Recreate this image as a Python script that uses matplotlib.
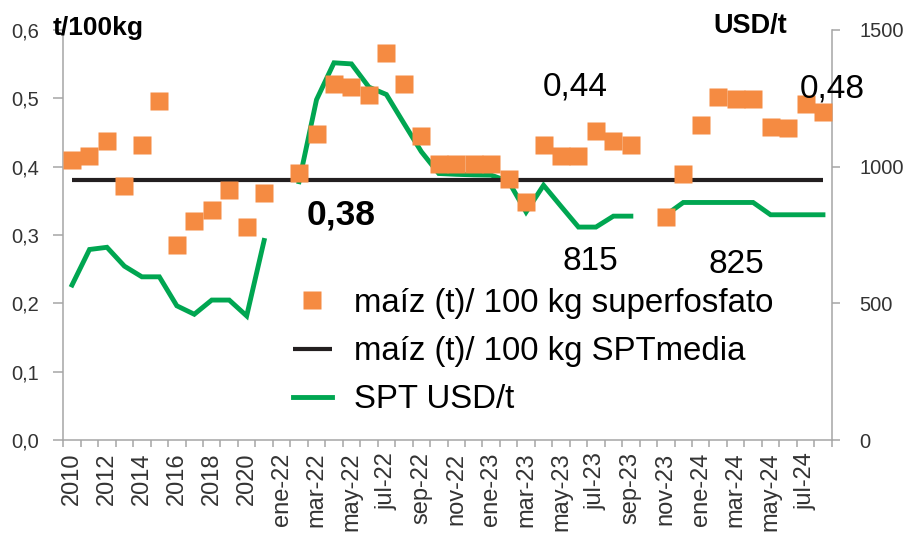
import numpy as np
import matplotlib
matplotlib.use("Agg")
import matplotlib.pyplot as plt
from matplotlib.ticker import FixedLocator, NullFormatter

plt.rcParams['font.family'] = ['Liberation Sans', 'DejaVu Sans']

years = ['2010', '2011', '2012', '2013', '2014', '2015', '2016', '2017',
         '2018', '2019', '2020', '2021']
months = ['ene-22', 'feb-22', 'mar-22', 'abr-22', 'may-22', 'jun-22', 'jul-22',
          'ago-22', 'sep-22', 'oct-22', 'nov-22', 'dic-22',
          'ene-23', 'feb-23', 'mar-23', 'abr-23', 'may-23', 'jun-23', 'jul-23',
          'ago-23', 'sep-23', 'oct-23', 'nov-23', 'dic-23',
          'ene-24', 'feb-24', 'mar-24', 'abr-24', 'may-24', 'jun-24', 'jul-24',
          'ago-24']
categories = years + months

nan = np.nan
maiz_superfosfato = [0.410, 0.416, 0.437, 0.372, 0.432, 0.496, 0.285, 0.320,
                     0.337, 0.366, 0.312, 0.362,
                     nan, 0.391, 0.448, 0.521, 0.517, 0.505, 0.567, 0.521,
                     0.445, 0.404, 0.404, 0.404, 0.404, 0.382, 0.349, 0.432,
                     0.416, 0.415, 0.452, 0.438, 0.432, nan, 0.326, 0.389,
                     0.461, 0.502, 0.499, 0.499, 0.458, 0.457, 0.492, 0.480]
spt_media = 0.38
spt_usd = [567, 697, 705, 636, 597, 597, 491, 460, 512, 512, 454, 730,
           nan, 945, 1245, 1380, 1376, 1291, 1264, 1159, 1055, 975, 972, 970,
           969, 946, 834, 932, 855, 779, 779, 819, 819, nan, 823, 869,
           869, 869, 869, 869, 824, 824, 824, 824]

label_every = 2
left_ticks = [0.0, 0.1, 0.2, 0.3, 0.4, 0.5, 0.6]
left_ticklabels = ['0,0', '0,1', '0,2', '0,3', '0,4', '0,5', '0,6']
right_ticks = [0, 500, 1000, 1500]

W, H = 907, 533
fig = plt.figure(figsize=(W / 100, H / 100), dpi=100)
ax = fig.add_axes([63.3 / W, 93 / H, (831.7 - 63.3) / W, (440 - 30) / H])
ax2 = ax.twinx()

x = np.arange(len(categories))
orange = '#F58B42'
green = '#00A651'
black = '#231F20'
gray = '#A6A6A6'
txtc = '#333333'

l_media, = ax.plot(x, [spt_media] * len(x), color=black, lw=3.0, zorder=2,
                   label='maíz (t)/ 100 kg SPTmedia', solid_capstyle='butt')
l_spt, = ax2.plot(x, spt_usd, color=green, lw=3.5, zorder=2,
                  label='SPT USD/t', solid_joinstyle='miter')
ax.set_zorder(ax2.get_zorder() + 1)
ax.patch.set_visible(False)
l_sq, = ax.plot(x, maiz_superfosfato, ls='none', marker='s', ms=13,
                mfc=orange, mec='none', zorder=4,
                label='maíz (t)/ 100 kg superfosfato')

ax.set_xlim(-0.5, len(categories) - 0.5)
ax.set_ylim(0, 0.6)
ax2.set_ylim(0, 1500)

# x ticks: labels every other category, tick marks at category boundaries
ax.set_xticks(x[::label_every])
ax.set_xticklabels(categories[::label_every], rotation=90, fontsize=17,
                   color=txtc)
ax.tick_params(axis='x', which='major', length=0, pad=9)
ax.xaxis.set_minor_locator(FixedLocator(np.arange(-0.5, len(categories), 1)))
ax.xaxis.set_minor_formatter(NullFormatter())
ax.tick_params(axis='x', which='minor', length=5, width=1.1, color=gray,
               direction='out')

ax.set_yticks(left_ticks)
ax.set_yticklabels(left_ticklabels, fontsize=14.5, color=txtc)
ax.tick_params(axis='y', length=7.5, width=1.1, color=gray, pad=10)

ax2.set_yticks(right_ticks)
ax2.set_yticklabels([str(v) for v in right_ticks], fontsize=14.5, color=txtc)
ax2.tick_params(axis='y', length=6, width=1.1, color=gray, pad=14)

for a in (ax, ax2):
    for s in ['top']:
        a.spines[s].set_visible(False)
    for s in ['left', 'right', 'bottom']:
        a.spines[s].set_color(gray)
        a.spines[s].set_linewidth(1.1)
ax.spines['right'].set_visible(False)
ax2.spines['left'].set_visible(False)
ax2.spines['bottom'].set_visible(False)

def fx(px):
    return px / W

def fy(py):
    return 1 - py / H

fig.text(fx(53), fy(35), 't/100kg', fontsize=19, fontweight='bold',
         color='black', va='baseline', ha='left')
fig.text(fx(713), fy(33), 'USD/t', fontsize=19.5, fontweight='bold',
         color='black', va='baseline', ha='left')
fig.text(fx(307), fy(225), '0,38', fontsize=25.5, fontweight='bold',
         color='black', va='baseline', ha='left')
fig.text(fx(543), fy(96), '0,44', fontsize=24, color='black',
         va='baseline', ha='left')
fig.text(fx(800), fy(97), '0,48', fontsize=24, color='black',
         va='baseline', ha='left')
fig.text(fx(562), fy(270), '815', fontsize=24, color='black',
         va='baseline', ha='left')
fig.text(fx(708), fy(273), '825', fontsize=24, color='black',
         va='baseline', ha='left')

leg = ax.legend(handles=[l_sq, l_media, l_spt], loc='upper left',
                bbox_to_anchor=(fx(293), fy(288)),
                bbox_transform=fig.transFigure, frameon=False,
                fontsize=23.8, borderpad=0, borderaxespad=0,
                handlelength=1.17, handletextpad=0.67, labelspacing=0.52,
                markerscale=1.0)
for t in leg.get_texts():
    t.set_color('black')

fig.savefig('out.png', dpi=100)
